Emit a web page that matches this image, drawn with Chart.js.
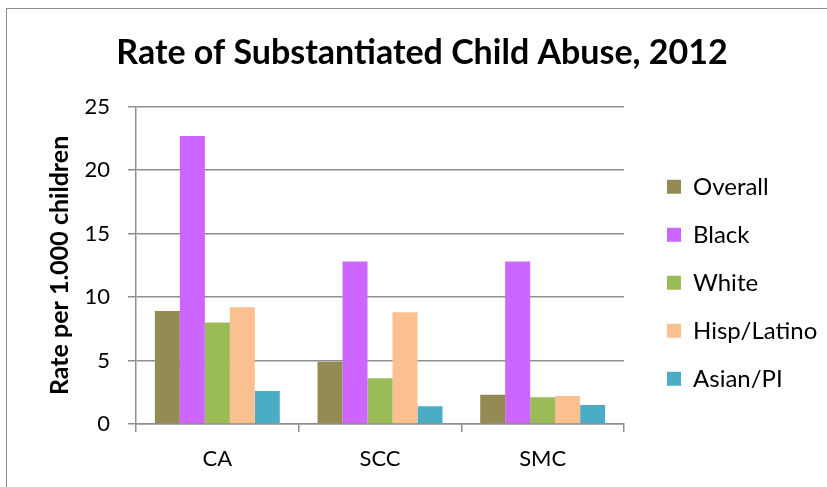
<!DOCTYPE html>
<html>
<head>
<meta charset="utf-8">
<script src="https://cdn.jsdelivr.net/npm/chart.js@4.4.1/dist/chart.umd.min.js"></script>
<style>
  html, body { margin: 0; padding: 0; background: #fff; }
  #wrap { position: relative; width: 827px; height: 487px; overflow: hidden; }
  #frame {
    position: absolute; left: 6px; top: 8px; width: 900px; height: 600px;
    border-top: 1.5px solid #8c8c8c; border-left: 1.5px solid #8c8c8c;
    pointer-events: none;
  }
  canvas { display: block; }
</style>
</head>
<body>
<div id="wrap">
  <canvas id="chart" width="827" height="487"></canvas>
  <div id="frame"></div>
</div>
<script>
// Substantiated child abuse rates per 1,000 children, 2012
const categories = ['CA', 'SCC', 'SMC'];
const overall    = [8.9, 4.9, 2.3];
const black      = [22.7, 12.8, 12.8];
const white      = [8.0, 3.6, 2.1];
const hispLatino = [9.2, 8.8, 2.2];
const asianPI    = [2.6, 1.4, 1.5];
const yTicks     = [0, 5, 10, 15, 20, 25];

const seriesNames  = ['Overall', 'Black', 'White', 'Hisp/Latino', 'Asian/PI'];
const seriesValues = [overall, black, white, hispLatino, asianPI];
const seriesColors = ['#948A54', '#CC66FF', '#9BBB59', '#FAC090', '#4BACC6'];

const gridColor = '#8f8f8f';
const FONT = 'Lato, Carlito, Calibri, sans-serif';

new Chart(document.getElementById('chart'), {
  type: 'bar',
  data: {
    labels: categories,
    datasets: seriesNames.map((name, i) => ({
      label: name,
      data: seriesValues[i],
      backgroundColor: seriesColors[i],
      borderWidth: 0,
      categoryPercentage: 0.768,
      barPercentage: 1.0
    }))
  },
  options: {
    responsive: false,
    animation: false,
    devicePixelRatio: 1,
    layout: { padding: { left: 21, right: 4, top: 0, bottom: 0 } },
    plugins: {
      title: {
        display: true,
        text: 'Rate of Substantiated Child Abuse, 2012',
        color: '#000',
        font: { family: FONT, size: 34, weight: 'bold', lineHeight: 1.2 },
        padding: { top: 33, bottom: 33 }
      },
      legend: {
        position: 'right',
        align: 'start',
        fullSize: false,
        maxWidth: 180,
        title: { display: true, text: '', font: { size: 10, lineHeight: 1 }, padding: { top: 0, bottom: 34 } },
        labels: {
          color: '#000',
          font: { family: FONT, size: 24 },
          boxWidth: 14,
          boxHeight: 14,
          padding: 24
        }
      },
      tooltip: { enabled: false }
    },
    scales: {
      x: {
        offset: true,
        grid: { display: true, offset: true, drawOnChartArea: false, drawTicks: true, tickLength: 8, color: gridColor, lineWidth: 1.5 },
        border: { display: true, color: gridColor, width: 1.5 },
        ticks: { color: '#000', font: { family: FONT, size: 22 }, padding: 14, maxRotation: 0 },
        afterFit: (s) => { s.height = 63; }
      },
      y: {
        min: yTicks[0],
        max: yTicks[yTicks.length - 1],
        afterBuildTicks: (s) => { s.ticks = yTicks.map(v => ({ value: v })); },
        grid: { color: gridColor, lineWidth: 1.5, drawTicks: true, tickLength: 8 },
        border: { display: true, color: gridColor, width: 1.5 },
        ticks: { color: '#000', font: { family: FONT, size: 22 }, padding: 18 },
        title: {
          display: true,
          text: 'Rate per 1.000 children',
          color: '#000',
          font: { family: FONT, size: 25, weight: 'bold', lineHeight: 1.2 },
          padding: { top: 24, bottom: 0 }
        },
        afterFit: (s) => { s.width = 115; }
      },
      // spacer between the plot and the legend
      y2: {
        position: 'right',
        display: true,
        grid: { display: false },
        border: { display: false },
        ticks: { display: false },
        afterFit: (s) => { s.width = 19; }
      }
    }
  }
});
</script>
</body>
</html>
